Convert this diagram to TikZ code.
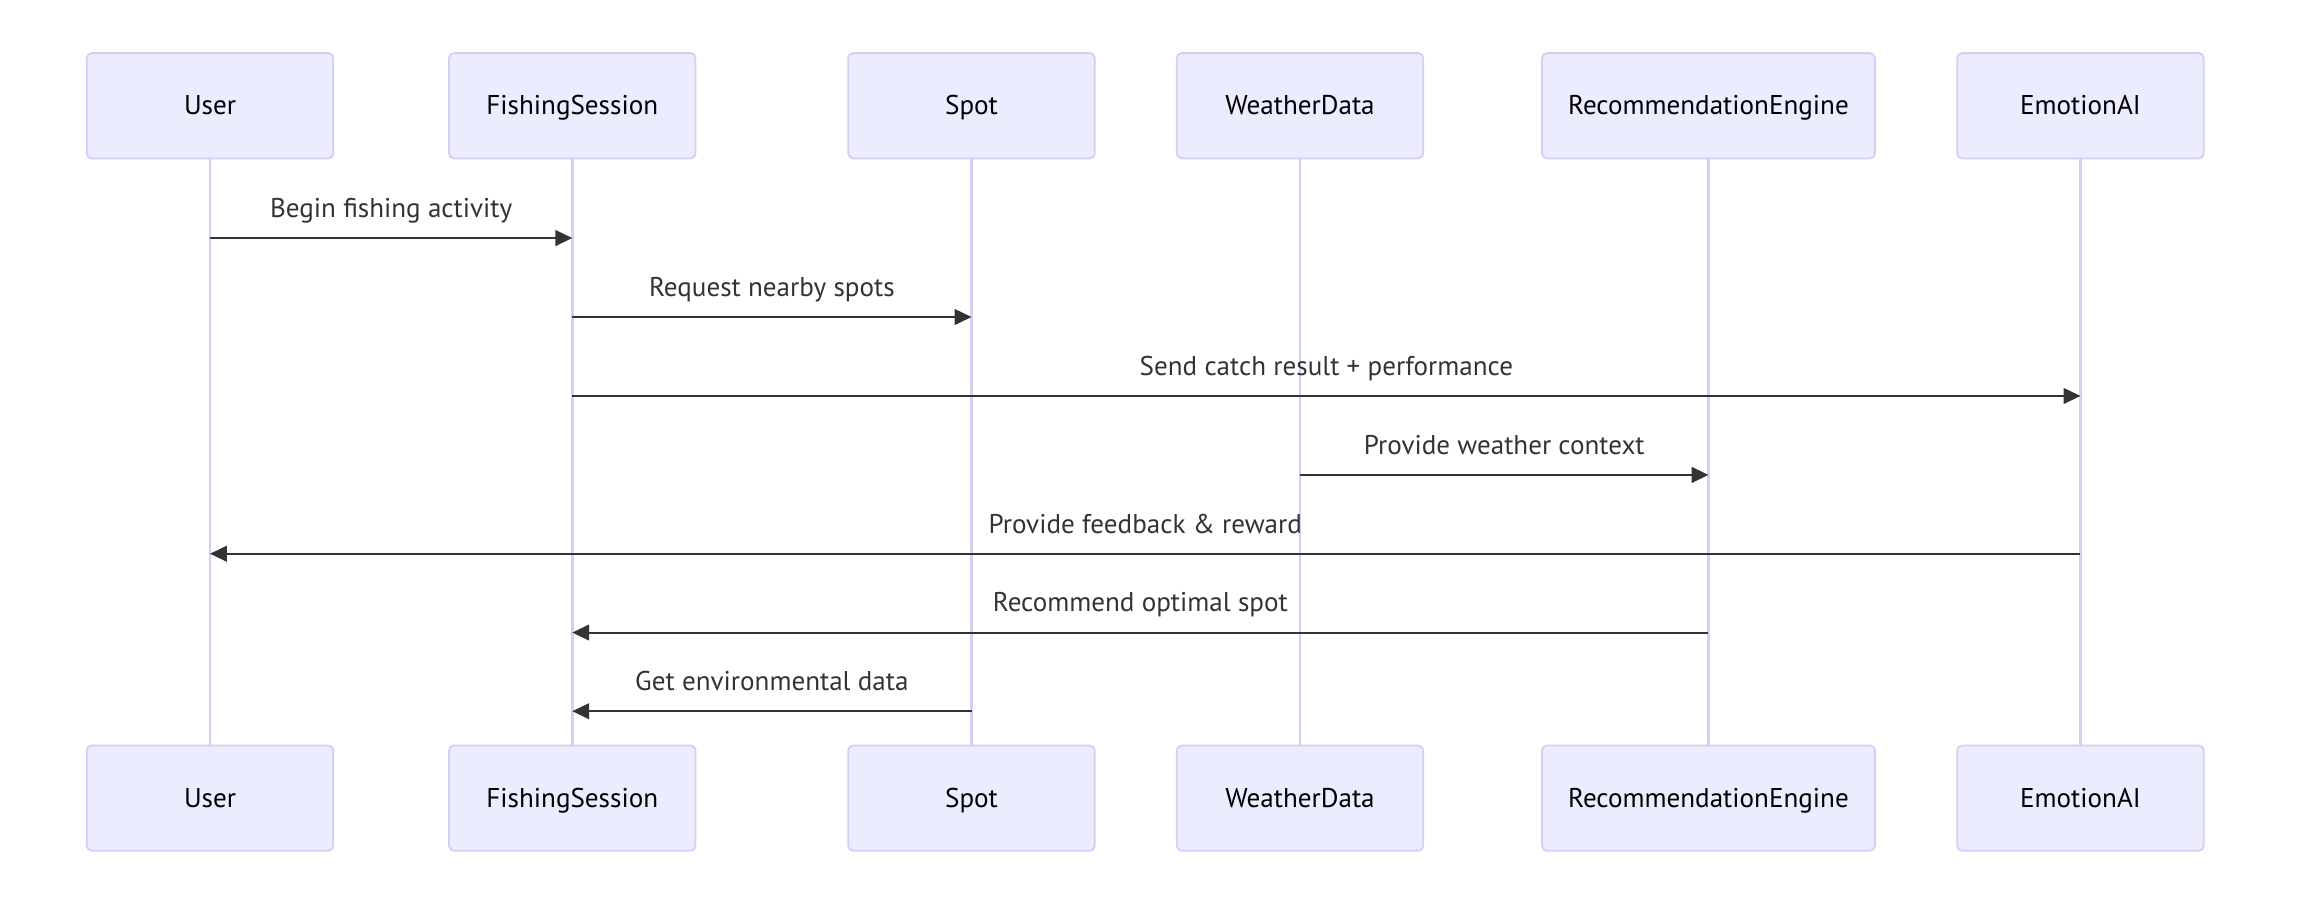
\documentclass[tikz,border=0pt]{standalone}
\usepackage{fontspec}
\setmainfont{PT Sans}
\usepackage{tikz}
\usetikzlibrary{arrows.meta}
\definecolor{actorfill}{HTML}{ECECFF}
\definecolor{actorline}{HTML}{D6CCF4}
\definecolor{lifecol}{HTML}{D8CEF3}
\definecolor{msgcol}{HTML}{333333}
\tikzset{
	actor/.style={draw=actorline, fill=actorfill, rounded corners=2.5pt, line width=0.9pt, minimum width=125.5pt, minimum height=53.6pt, inner sep=0pt, text height=0.92em, text depth=0pt, text=black, font=\fontsize{13.8}{16}\selectfont},
	lifeline/.style={draw=lifecol, line width=1.4pt},
	msg/.style={draw=msgcol, line width=1.05pt, -{Triangle[length=8.6pt, width=8pt]}},
	msglabel/.style={midway, anchor=base, yshift=10.5pt, inner sep=0pt, text=msgcol, font=\fontsize{13.8}{16}\selectfont}
}

\begin{document}
\begin{tikzpicture}[x=0.75pt, y=-0.75pt]
			%%%%% START %%%%%
			
			\useasboundingbox (0, 0) rectangle (1560, 613.68);
			
			% actors, top row
			\node[actor] (userTop) at (142.6, 71.8) {User};
			\node[actor] (sessionTop) at (388.5, 71.8) {FishingSession};
			\node[actor] (spotTop) at (659.5, 71.8) {Spot};
			\node[actor] (weatherTop) at (882.5, 71.8) {WeatherData};
			\node[actor, minimum width=169.5pt] (engineTop) at (1159.8, 71.8) {RecommendationEngine};
			\node[actor] (emotionTop) at (1412.3, 71.8) {EmotionAI};
			
			% actors, bottom row
			\node[actor] (userBot) at (142.6, 541.8) {User};
			\node[actor] (sessionBot) at (388.5, 541.8) {FishingSession};
			\node[actor] (spotBot) at (659.5, 541.8) {Spot};
			\node[actor] (weatherBot) at (882.5, 541.8) {WeatherData};
			\node[actor, minimum width=169.5pt] (engineBot) at (1159.8, 541.8) {RecommendationEngine};
			\node[actor] (emotionBot) at (1412.3, 541.8) {EmotionAI};
			
			% lifelines
			\draw[lifeline] (userTop) -- (userBot);
			\draw[lifeline] (sessionTop) -- (sessionBot);
			\draw[lifeline] (spotTop) -- (spotBot);
			\draw[lifeline] (weatherTop) -- (weatherBot);
			\draw[lifeline] (engineTop) -- (engineBot);
			\draw[lifeline] (emotionTop) -- (emotionBot);
			
			% message heights
			\coordinate (m1) at (0, 161.6);
			\coordinate (m2) at (0, 215.2);
			\coordinate (m3) at (0, 268.8);
			\coordinate (m4) at (0, 322.4);
			\coordinate (m5) at (0, 375.9);
			\coordinate (m6) at (0, 429.4);
			\coordinate (m7) at (0, 482.8);
			
			% messages
			\draw[msg] (userTop |- m1) -- (sessionTop |- m1) node[msglabel] {Begin fishing activity};
			\draw[msg] (sessionTop |- m2) -- (spotTop |- m2) node[msglabel] {Request nearby spots};
			\draw[msg] (sessionTop |- m3) -- (emotionTop |- m3) node[msglabel] {Send catch result + performance};
			\draw[msg] (weatherTop |- m4) -- (engineTop |- m4) node[msglabel] {Provide weather context};
			\draw[msg] (emotionTop |- m5) -- (userTop |- m5) node[msglabel] {Provide feedback \& reward};
			\draw[msg] (engineTop |- m6) -- (sessionTop |- m6) node[msglabel] {Recommend optimal spot};
			\draw[msg] (spotTop |- m7) -- (sessionTop |- m7) node[msglabel] {Get environmental data};
			
			%%%%% END %%%%%
\end{tikzpicture}
\end{document}
